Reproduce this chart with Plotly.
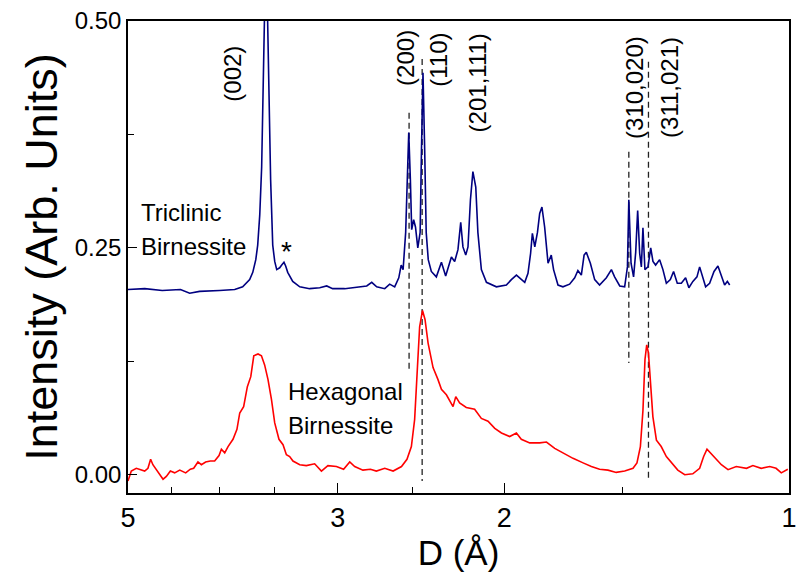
import numpy as np
import plotly.graph_objects as go

# d-spacing (Å) and intensity of the triclinic birnessite pattern (offset upward)
tri_d = [5.000, 4.800, 4.600, 4.400, 4.303, 4.200, 4.000, 3.856, 3.782, 3.718,
         3.690, 3.663, 3.646, 3.628, 3.611, 3.597, 3.585, 3.572, 3.559, 3.546,
         3.533, 3.515, 3.498, 3.481, 3.456, 3.439, 3.420, 3.406, 3.389, 3.348,
         3.291, 3.213, 3.135, 3.082, 3.038, 2.950, 2.879, 2.831, 2.796, 2.762,
         2.729, 2.676, 2.644, 2.612, 2.586, 2.571, 2.559, 2.543, 2.533, 2.524,
         2.514, 2.506, 2.494, 2.483, 2.469, 2.455, 2.447, 2.438, 2.428, 2.419,
         2.407, 2.389, 2.360, 2.331, 2.307, 2.275, 2.257, 2.239, 2.224, 2.212,
         2.197, 2.185, 2.172, 2.159, 2.144, 2.133, 2.115, 2.089, 2.039, 1.990,
         1.966, 1.942, 1.923, 1.903, 1.888, 1.876, 1.868, 1.857, 1.845, 1.835,
         1.825, 1.813, 1.798, 1.784, 1.774, 1.755, 1.734, 1.706, 1.685, 1.672,
         1.658, 1.647, 1.638, 1.622, 1.605, 1.586, 1.560, 1.541, 1.529, 1.510,
         1.492, 1.482, 1.477, 1.469, 1.460, 1.4525, 1.4455, 1.4385, 1.4326, 1.4271,
         1.4202, 1.4097, 1.4003, 1.3927, 1.3837, 1.3703, 1.3593, 1.348, 1.335, 1.3245,
         1.3126, 1.2997, 1.2863, 1.2761, 1.2637, 1.2512, 1.2431, 1.235, 1.2251, 1.2132,
         1.2003, 1.1889, 1.1791, 1.1697, 1.162, 1.1554]
tri_i = [0.204, 0.205, 0.203, 0.204, 0.200, 0.202, 0.203, 0.204, 0.207, 0.215,
         0.223, 0.237, 0.253, 0.286, 0.339, 0.413, 0.501, 0.600, 0.501, 0.413,
         0.325, 0.253, 0.235, 0.226, 0.228, 0.231, 0.234, 0.230, 0.223, 0.213,
         0.207, 0.205, 0.206, 0.208, 0.205, 0.205, 0.206, 0.207, 0.208, 0.212,
         0.207, 0.205, 0.210, 0.207, 0.217, 0.231, 0.226, 0.267, 0.339, 0.377,
         0.325, 0.270, 0.281, 0.273, 0.250, 0.267, 0.358, 0.443, 0.358, 0.267,
         0.237, 0.224, 0.218, 0.234, 0.219, 0.240, 0.235, 0.248, 0.278, 0.251,
         0.242, 0.251, 0.303, 0.334, 0.317, 0.267, 0.226, 0.212, 0.207, 0.209,
         0.215, 0.220, 0.216, 0.212, 0.222, 0.244, 0.266, 0.251, 0.267, 0.288,
         0.295, 0.273, 0.233, 0.242, 0.226, 0.209, 0.207, 0.210, 0.217, 0.225,
         0.220, 0.242, 0.245, 0.233, 0.215, 0.209, 0.217, 0.226, 0.218, 0.208,
         0.207, 0.229, 0.303, 0.233, 0.218, 0.245, 0.291, 0.244, 0.229, 0.272,
         0.226, 0.229, 0.250, 0.235, 0.231, 0.237, 0.226, 0.211, 0.215, 0.224,
         0.211, 0.211, 0.217, 0.206, 0.213, 0.218, 0.229, 0.218, 0.207, 0.211,
         0.224, 0.230, 0.218, 0.209, 0.213, 0.209]

# d-spacing (Å) and intensity of the hexagonal birnessite pattern
hex_d = [5.000, 4.960, 4.900, 4.861, 4.801, 4.763, 4.732, 4.706, 4.667, 4.591,
         4.554, 4.510, 4.463, 4.408, 4.345, 4.296, 4.261, 4.217, 4.182, 4.139,
         4.092, 4.049, 4.006, 3.983, 3.951, 3.919, 3.872, 3.835, 3.809, 3.773,
         3.739, 3.708, 3.681, 3.643, 3.613, 3.585, 3.556, 3.526, 3.498, 3.462,
         3.428, 3.400, 3.373, 3.346, 3.291, 3.239, 3.174, 3.122, 3.073, 3.010,
         2.958, 2.914, 2.879, 2.822, 2.771, 2.731, 2.676, 2.622, 2.569, 2.535,
         2.508, 2.488, 2.471, 2.458, 2.441, 2.426, 2.408, 2.379, 2.351, 2.331,
         2.303, 2.266, 2.251, 2.230, 2.194, 2.150, 2.115, 2.081, 2.047, 2.014,
         1.974, 1.942, 1.919, 1.880, 1.835, 1.805, 1.769, 1.734, 1.692, 1.651,
         1.618, 1.586, 1.554, 1.523, 1.492, 1.462, 1.448, 1.436, 1.427, 1.420,
         1.414, 1.408, 1.401, 1.393, 1.381, 1.365, 1.348, 1.332, 1.311, 1.289,
         1.264, 1.243, 1.231, 1.221, 1.208, 1.193, 1.179, 1.160, 1.137, 1.109,
         1.092, 1.070, 1.048, 1.032, 1.019, 1.003]
hex_i = [-0.007, 0.004, 0.007, 0.006, 0.004, 0.007, 0.017, 0.011, 0.006, -0.005,
         -0.002, 0.004, 0.002, 0.005, 0.002, 0.006, 0.007, 0.014, 0.011, 0.014,
         0.015, 0.015, 0.021, 0.028, 0.024, 0.031, 0.039, 0.050, 0.068, 0.075,
         0.097, 0.108, 0.131, 0.133, 0.131, 0.121, 0.105, 0.083, 0.057, 0.039,
         0.033, 0.022, 0.020, 0.015, 0.011, 0.010, 0.012, 0.004, 0.010, 0.009,
         0.006, 0.014, 0.009, 0.005, 0.006, 0.004, 0.007, 0.004, 0.009, 0.017,
         0.031, 0.061, 0.119, 0.163, 0.181, 0.171, 0.145, 0.118, 0.105, 0.094,
         0.088, 0.075, 0.086, 0.079, 0.074, 0.072, 0.062, 0.059, 0.051, 0.046,
         0.042, 0.046, 0.039, 0.035, 0.035, 0.036, 0.029, 0.024, 0.018, 0.013,
         0.009, 0.006, 0.005, 0.0025, 0.004, 0.007, 0.013, 0.031, 0.071, 0.127,
         0.143, 0.134, 0.101, 0.064, 0.038, 0.031, 0.020, 0.013, 0.005, 0.000,
         0.001, 0.007, 0.020, 0.028, 0.023, 0.017, 0.011, 0.0055, 0.009, 0.007,
         0.010, 0.007, 0.009, 0.007, 0.002, 0.006]

# Miller-index labels and where they sit (d in Å, intensity)
peak_labels = ["(002)", "(200)", "(110)", "(201,111)", "(310,020)", "(311,021)"]
label_d = [3.875, 2.549, 2.352, 2.134, 1.456, 1.337]
label_i = [0.4416, 0.459, 0.457, 0.432, 0.427, 0.427]

# dashed reflection markers: d position, top and bottom intensity
marker_d = [2.522, 2.443, 1.477, 1.408]
marker_top = [0.399, 0.458, 0.356, 0.455]
marker_bottom = [0.113, -0.007, 0.123, -0.007]

x_ticks = [5, 3, 2, 1]
x_minor = [4.5, 4, 3.5, 2.5, 1.5]
y_ticks = [0.0, 0.25, 0.5]
y_tick_text = ["0.00", "0.25", "0.50"]
y_minor = [0.125, 0.375]

FONT = "Liberation Sans, Arial, sans-serif"
X_RANGE = [np.log10(5), 0]
Y_RANGE = [-0.0202, 0.5]

fig = go.Figure()

# dashed reflection markers (one trace, segments split by None)
mx, my = [], []
for d, top, bot in zip(marker_d, marker_top, marker_bottom):
    mx += [d, d, None]
    my += [top, bot, None]
fig.add_trace(go.Scatter(x=mx, y=my, mode="lines",
                         line=dict(color="#222222", width=1.3, dash="6px,4px"),
                         hoverinfo="skip", showlegend=False))

fig.add_trace(go.Scatter(x=tri_d, y=tri_i, mode="lines",
                         line=dict(color="#000080", width=1.6),
                         name="Triclinic Birnessite", showlegend=False))
fig.add_trace(go.Scatter(x=hex_d, y=hex_i, mode="lines",
                         line=dict(color="#ff0000", width=1.6),
                         name="Hexagonal Birnessite", showlegend=False))

annotations = []
for txt, d, inten in zip(peak_labels, label_d, label_i):
    annotations.append(dict(x=np.log10(d), y=inten, xref="x", yref="y", text=txt,
                            textangle=-90, showarrow=False,
                            font=dict(family=FONT, size=24, color="black")))

def side_text(txt, d, inten):
    return dict(x=np.log10(d), y=inten, xref="x", yref="y", text=txt,
                showarrow=False, xanchor="left", yanchor="middle",
                font=dict(family=FONT, size=24, color="black"))

annotations += [
    side_text("Triclinic", 4.873, 0.2885),
    side_text("Birnessite", 4.873, 0.251),
    side_text("Hexagonal", 3.40, 0.0914),
    side_text("Birnessite", 3.40, 0.054),
    dict(x=np.log10(3.40), y=0.246, xref="x", yref="y", text="*", showarrow=False,
         font=dict(family=FONT, size=28, color="black")),
]

fig.update_layout(
    width=800, height=573,
    margin=dict(l=128, r=11, t=21, b=80),
    paper_bgcolor="white", plot_bgcolor="white",
    annotations=annotations,
    showlegend=False,
)

tick_common = dict(ticks="inside", tickwidth=1.3, tickcolor="black")

fig.update_layout(
    xaxis=dict(
        type="log", range=X_RANGE, automargin=False,
        tickmode="array", tickvals=x_ticks, ticktext=[str(v) for v in x_ticks],
        ticklen=10, **tick_common,
        minor=dict(tickmode="array", tickvals=x_minor, ticklen=6, showgrid=False, **tick_common),
        showline=True, linecolor="black", linewidth=1.5, mirror=True,
        showgrid=False, zeroline=False,
        tickfont=dict(family=FONT, size=27, color="black"),
        title=dict(text="D (Å)", font=dict(family=FONT, size=35, color="black"), standoff=2),
    ),
    yaxis=dict(
        range=Y_RANGE, automargin=False,
        tickmode="array", tickvals=y_ticks, ticktext=y_tick_text,
        ticklen=9, **tick_common,
        minor=dict(tickmode="array", tickvals=y_minor, ticklen=6, showgrid=False, **tick_common),
        showline=True, linecolor="black", linewidth=1.5, mirror=True,
        showgrid=False, zeroline=False,
        tickfont=dict(family=FONT, size=24, color="black"),
        title=dict(text="Intensity (Arb. Units)",
                   font=dict(family=FONT, size=45, color="black"), standoff=3),
    ),
    # short ticks along the top and right frame edges
    xaxis2=dict(
        type="log", range=X_RANGE, overlaying="x", side="top", anchor="y",
        tickmode="array", tickvals=x_ticks + x_minor, ticklen=5, **tick_common,
        showticklabels=False, showline=False, showgrid=False, zeroline=False,
    ),
    yaxis2=dict(
        range=Y_RANGE, overlaying="y", side="right", anchor="x",
        tickmode="array", tickvals=y_ticks + y_minor, ticklen=5, **tick_common,
        showticklabels=False, showline=False, showgrid=False, zeroline=False,
    ),
)

fig.write_html("out.html")
